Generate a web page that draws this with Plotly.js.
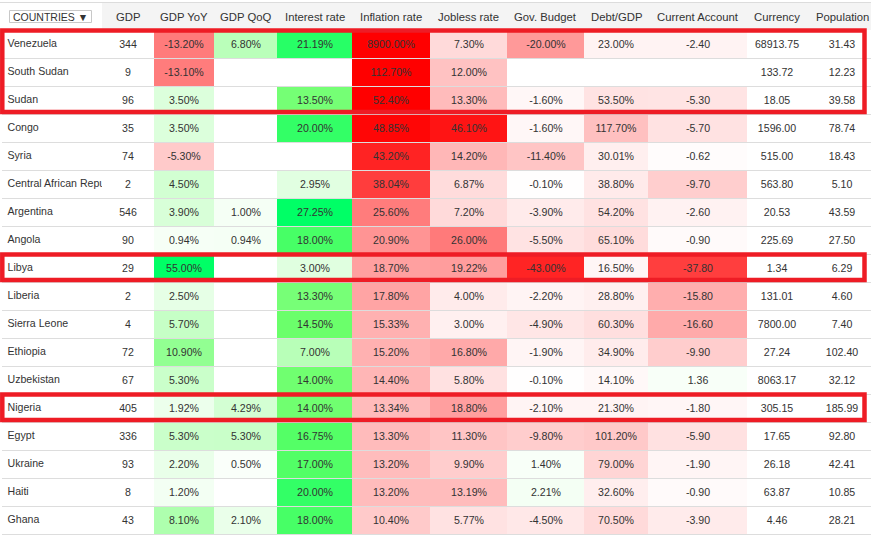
<!DOCTYPE html>
<html>
<head>
<meta charset="utf-8">
<script src="https://cdn.plot.ly/plotly-3.0.1.min.js"></script>
<style>html,body{margin:0;padding:0;background:#fff;}#chart{width:871px;height:537px;}</style>
</head>
<body>
<div id="chart"></div>
<script>
// ---- data ----
const countries = ['Venezuela','South Sudan','Sudan','Congo','Syria','Central African Republic','Argentina','Angola','Libya','Liberia','Sierra Leone','Ethiopia','Uzbekistan','Nigeria','Egypt','Ukraine','Haiti','Ghana'];
const gdp = [344, 9, 96, 35, 74, 2, 546, 90, 29, 2, 4, 72, 67, 405, 336, 93, 8, 43];
const gdpYoY = [-13.20, -13.10, 3.50, 3.50, -5.30, 4.50, 3.90, 0.94, 55.00, 2.50, 5.70, 10.90, 5.30, 1.92, 5.30, 2.20, 1.20, 8.10];
const gdpQoQ = [6.80, null, null, null, null, null, 1.00, 0.94, null, null, null, null, null, 4.29, 5.30, 0.50, null, 2.10];
const interestRate = [21.19, null, 13.50, 20.00, null, 2.95, 27.25, 18.00, 3.00, 13.30, 14.50, 7.00, 14.00, 14.00, 16.75, 17.00, 20.00, 18.00];
const inflationRate = [8900.00, 112.70, 52.40, 48.85, 43.20, 38.04, 25.60, 20.90, 18.70, 17.80, 15.33, 15.20, 14.40, 13.34, 13.30, 13.20, 13.20, 10.40];
const joblessRate = [7.30, 12.00, 13.30, 46.10, 14.20, 6.87, 7.20, 26.00, 19.22, 4.00, 3.00, 16.80, 5.80, 18.80, 11.30, 9.90, 13.19, 5.77];
const govBudget = [-20.00, null, -1.60, -1.60, -11.40, -0.10, -3.90, -5.50, -43.00, -2.20, -4.90, -1.90, -0.10, -2.10, -9.80, 1.40, 2.21, -4.50];
const debtGdp = [23.00, null, 53.50, 117.70, 30.01, 38.80, 54.20, 65.10, 16.50, 28.80, 60.30, 34.90, 14.10, 21.30, 101.20, 79.00, 32.60, 70.50];
const currentAccount = [-2.40, null, -5.30, -5.70, -0.62, -9.70, -2.60, -0.90, -37.80, -15.80, -16.60, -9.90, 1.36, -1.80, -5.90, -1.90, -0.90, -3.90];
const currency = [68913.75, 133.72, 18.05, 1596.00, 515.00, 563.80, 20.53, 225.69, 1.34, 131.01, 7800.00, 27.24, 8063.17, 305.15, 17.65, 26.18, 63.87, 4.46];
const population = [31.43, 12.23, 39.58, 78.74, 18.43, 5.10, 43.59, 27.50, 6.29, 4.60, 7.40, 102.40, 32.12, 185.99, 92.80, 42.41, 10.85, 28.21];
const columnLabels = ['GDP','GDP YoY','GDP QoQ','Interest rate','Inflation rate','Jobless rate','Gov. Budget','Debt/GDP','Current Account','Currency','Population'];
const highlightGroups = [['Venezuela','South Sudan','Sudan'], ['Libya'], ['Nigeria']];

// ---- styling / layout ----
const FONT = '"Liberation Sans", Arial, sans-serif';
const series = [gdp, gdpYoY, gdpQoQ, interestRate, inflationRate, joblessRate, govBudget, debtGdp, currentAccount, currency, population];
const pct = v => v.toFixed(2) + '%';
const num = v => v.toFixed(2);
const colStyle = [
  {fmt: v => v.toFixed(0), scale: null, sign: 1},
  {fmt: pct, scale: 25.5, sign: 1},
  {fmt: pct, scale: 25, sign: 1},
  {fmt: pct, scale: 25, sign: 1},
  {fmt: pct, scale: 50, sign: -1},
  {fmt: pct, scale: 50, sign: -1},
  {fmt: pct, scale: 50, sign: 1},
  {fmt: pct, scale: 480, sign: -1},
  {fmt: num, scale: 50, sign: 1},
  {fmt: num, scale: null, sign: 1},
  {fmt: num, scale: null, sign: 1}
];
const colEdges = [102, 154, 214, 277, 352, 430, 507, 584, 648, 747, 806, 878];
const ROW_TOP = 30, ROW_H = 28, W = 871, H = 537;
const yEdges = countries.map((_, i) => ROW_TOP + i * ROW_H).concat([ROW_TOP + countries.length * ROW_H]);
const yCenters = countries.map((_, i) => ROW_TOP + (i + 0.5) * ROW_H);
const clamp = t => Math.max(-1, Math.min(1, t));

const z = countries.map((_, i) => series.map((s, j) => {
  const v = s[i], st = colStyle[j];
  return (v == null || !st.scale) ? 0 : clamp(st.sign * v / st.scale);
}));
const text = countries.map((_, i) => series.map((s, j) => s[i] == null ? '' : colStyle[j].fmt(s[i])));

const heat = {
  type: 'heatmap', x: colEdges, y: yEdges, z: z, text: text,
  texttemplate: '%{text}', textfont: {family: FONT, size: 10.6, color: '#333'},
  zmin: -1, zmax: 1, showscale: false, hoverinfo: 'skip',
  colorscale: [[0, '#ff0000'], [0.5, '#ffffff'], [0.8, '#66ff66'], [1, '#00ff66']]
};
const names = {
  type: 'scatter', mode: 'text', xaxis: 'x2', yaxis: 'y',
  x: countries.map(() => 7.5), y: yCenters.map(c => c + 0.5), text: countries,
  textposition: 'middle right', cliponaxis: true,
  textfont: {family: FONT, size: 10.6, color: '#333'}, hoverinfo: 'skip'
};

const shapes = [];
shapes.push({type: 'rect', xref: 'x', yref: 'y', x0: 0, x1: W, y0: 2.5, y1: ROW_TOP, fillcolor: '#f4f4f4', line: {width: 0}, layer: 'below'});
shapes.push({type: 'line', xref: 'x', yref: 'y', x0: 0, x1: W, y0: 2.5, y1: 2.5, line: {color: '#dcdcdc', width: 1}});
shapes.push({type: 'rect', xref: 'x', yref: 'y', x0: 9.5, x1: 91.5, y0: 10.5, y1: 22.5, fillcolor: '#ffffff', line: {color: '#c8c8c8', width: 1}});
for (let k = 1; k <= countries.length; k++) {
  const y = ROW_TOP + k * ROW_H + 0.5;
  shapes.push({type: 'line', xref: 'x', yref: 'y', x0: 2, x1: W, y0: y, y1: y, line: {color: '#dddddd', width: 1}});
}
highlightGroups.forEach(g => {
  const i0 = countries.indexOf(g[0]), i1 = countries.indexOf(g[g.length - 1]);
  shapes.push({type: 'rect', xref: 'x', yref: 'y', x0: 2.3, x1: 864.5,
    y0: yEdges[i0] + 0.5, y1: yEdges[i1 + 1] - 2,
    line: {color: '#ee1c25', width: 4.5}, fillcolor: 'rgba(0,0,0,0)'});
});

const annotations = columnLabels.map((lab, j) => ({
  xref: 'x', yref: 'y', x: (colEdges[j] + colEdges[j + 1]) / 2, y: 16.5,
  text: lab, showarrow: false, xanchor: 'center', yanchor: 'middle',
  font: {family: FONT, size: 11.3, color: '#333'}
}));
annotations.push({xref: 'x', yref: 'y', x: 11, y: 16.5, text: 'COUNTRIES <span style="font-size:10.5px">▼</span>', showarrow: false,
  xanchor: 'left', yanchor: 'middle', font: {family: FONT, size: 10.5, color: '#333'}});

const layout = {
  width: W, height: H, margin: {l: 0, r: 0, t: 0, b: 0, pad: 0},
  paper_bgcolor: '#ffffff', plot_bgcolor: '#ffffff', showlegend: false,
  xaxis: {range: [0, W], visible: false, fixedrange: true, domain: [0, 1]},
  xaxis2: {range: [0, 102], visible: false, fixedrange: true, domain: [0, 102 / W], anchor: 'y'},
  yaxis: {range: [H, 0], visible: false, fixedrange: true, domain: [0, 1]},
  shapes: shapes, annotations: annotations
};
Plotly.newPlot('chart', [heat, names], layout, {displayModeBar: false, staticPlot: true});
</script>
</body>
</html>
